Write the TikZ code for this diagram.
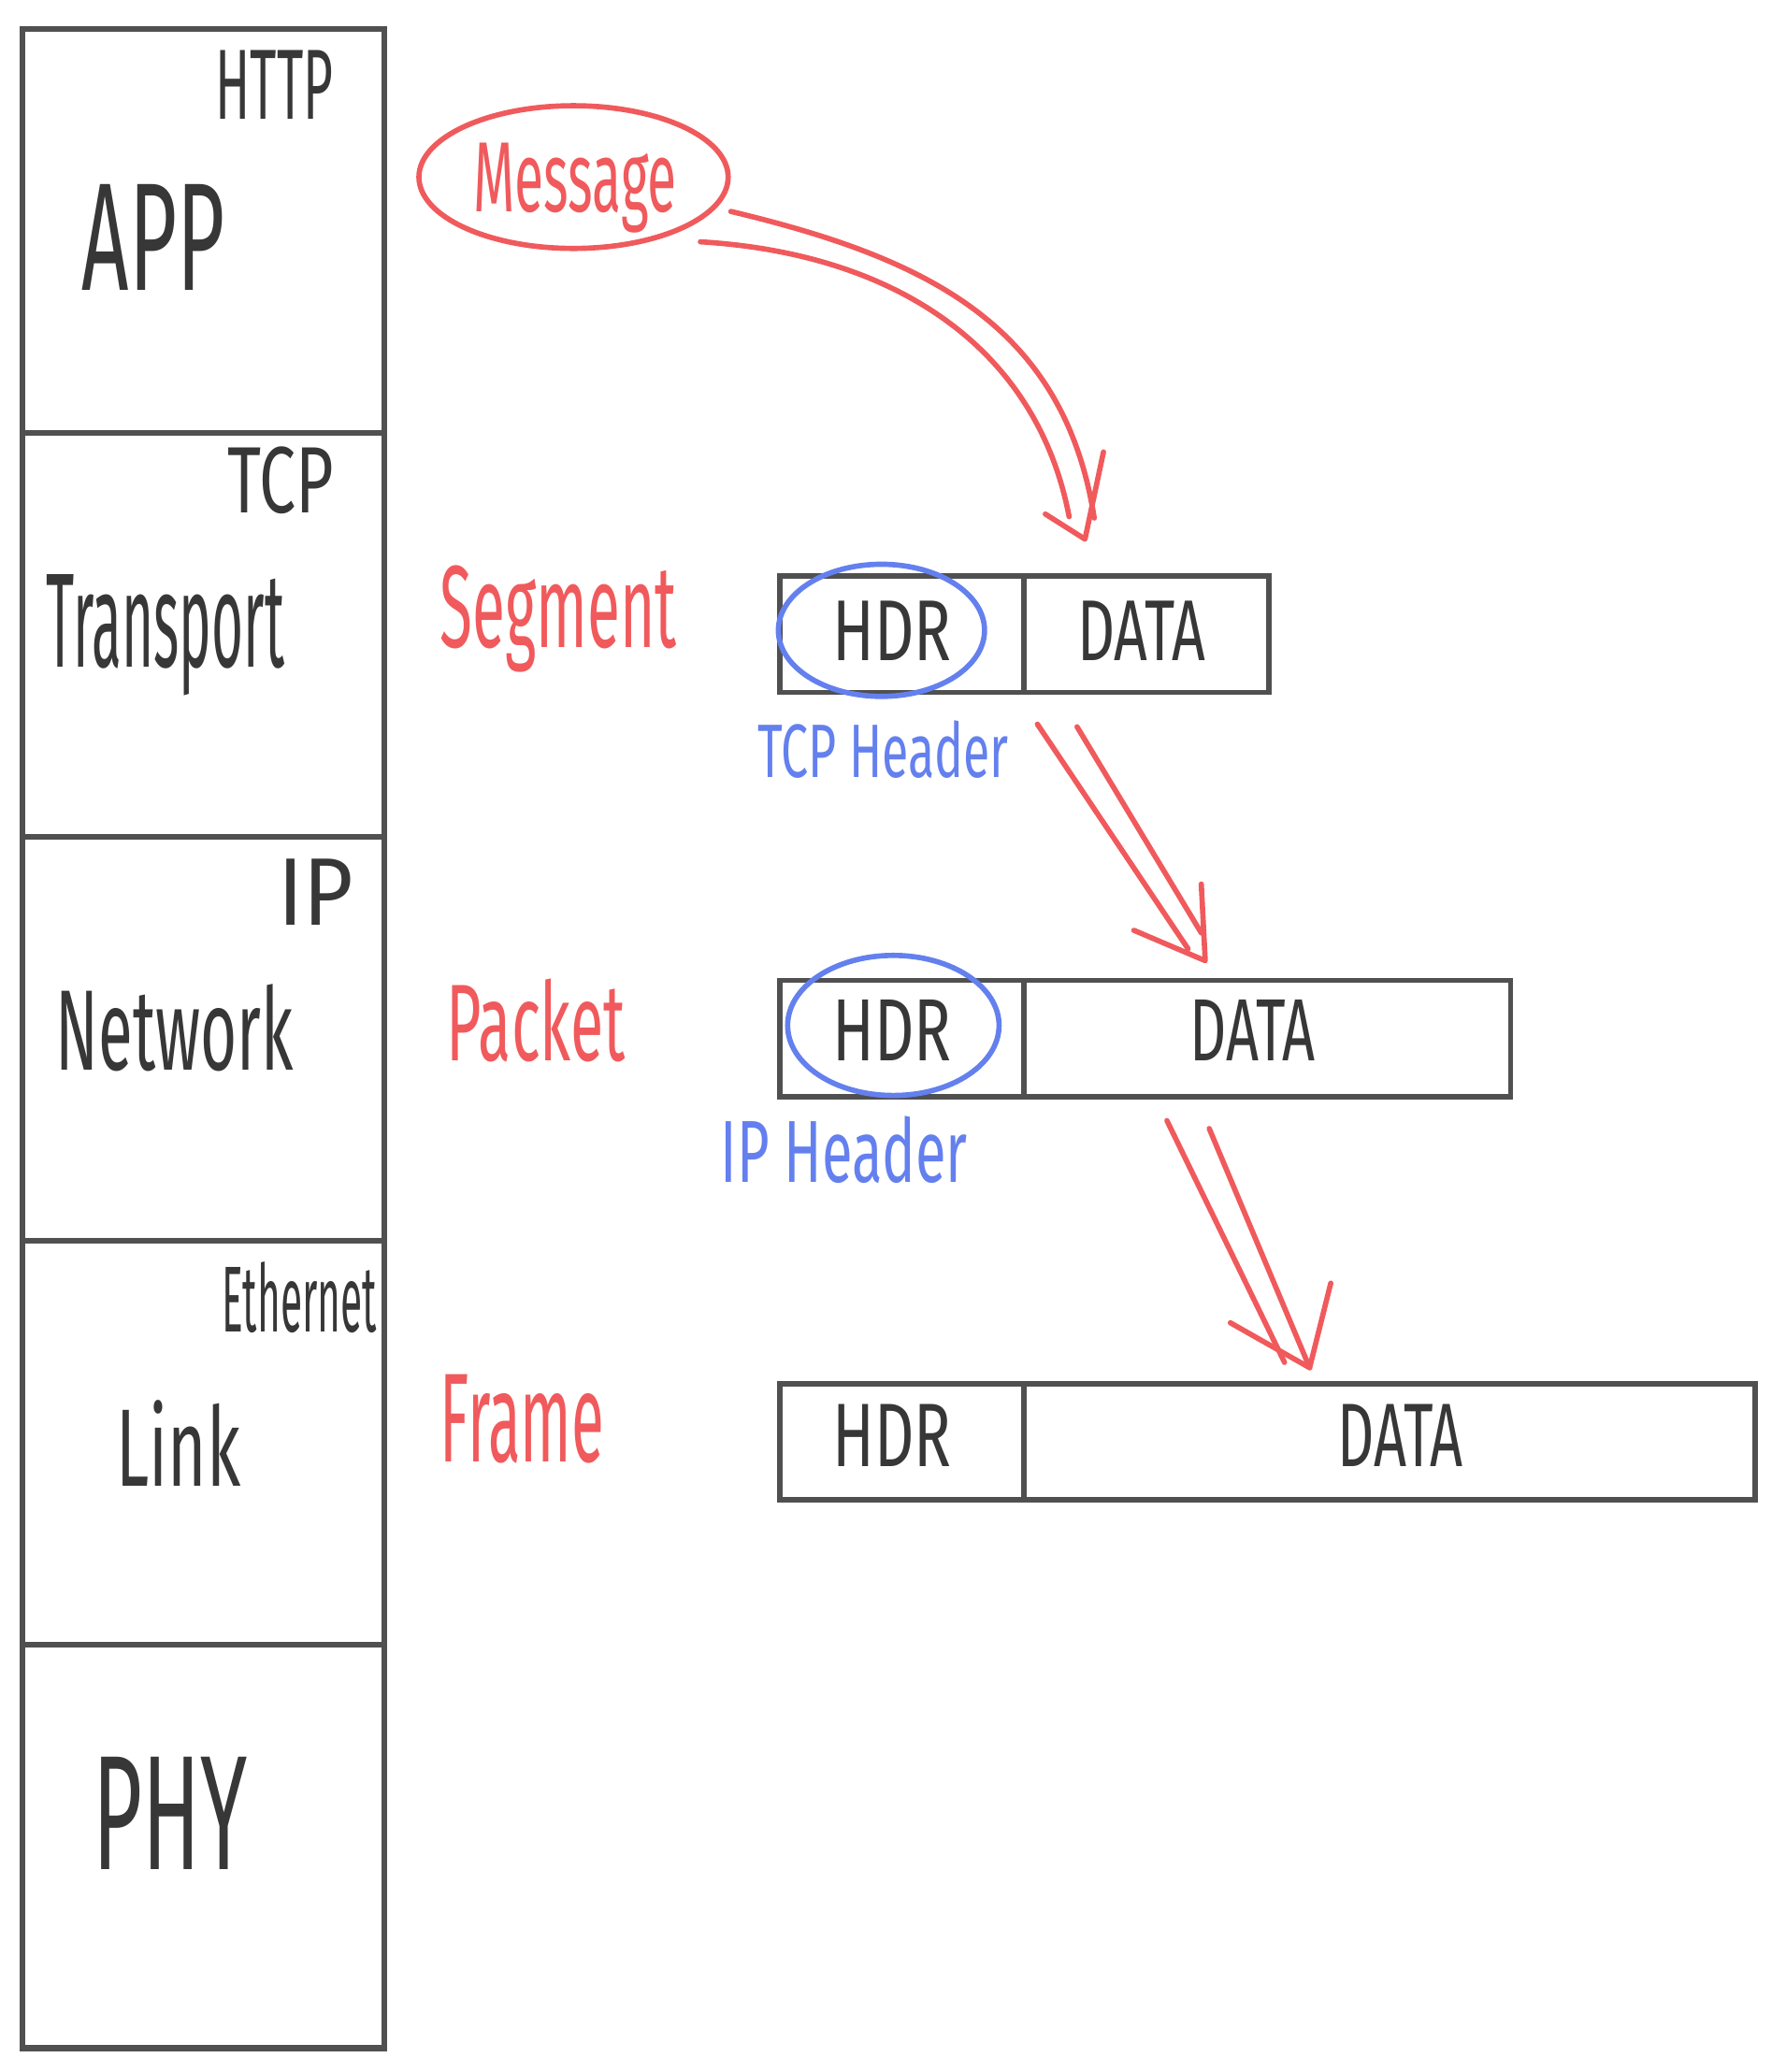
\documentclass[tikz,border=0pt]{standalone}
\usepackage{fontspec}
\usepackage{graphicx}
\newfontfamily\hand{Fira Sans}
\definecolor{ink}{RGB}{55,55,55}
\definecolor{boxgray}{RGB}{80,80,80}
\definecolor{penred}{RGB}{240,90,92}
\definecolor{penblue}{RGB}{100,128,238}
\newcommand{\hw}[3]{\resizebox{#1pt}{#2pt}{\hand #3}}
\tikzset{
  layer/.style={draw=boxgray, line width=4.5pt, minimum width=274pt, minimum height=305.6pt, inner sep=0pt},
  cell/.style={draw=boxgray, line width=4pt, inner sep=0pt, minimum height=88pt},
  txt/.style={anchor=base west, inner sep=0pt, text=ink},
  redtxt/.style={anchor=base west, inner sep=0pt, text=penred},
  bluetxt/.style={anchor=base west, inner sep=0pt, text=penblue},
  arr/.style={draw=penred, line width=4pt, line cap=round, line join=round},
  ring/.style={ellipse, draw, line width=4pt, inner sep=0pt}
}
\usetikzlibrary{shapes.geometric}
\begin{document}
\begin{tikzpicture}[x=1pt,y=-1pt]
\useasboundingbox (0,0) rectangle (1351,1568);
% layer stack
\node[layer] (app) at (154,174.8) {};
\node[layer] (tra) at (154,480.4) {};
\node[layer] (net) at (154,786.0) {};
\node[layer] (lnk) at (154,1091.6) {};
\node[layer] (phy) at (154,1397.2) {};
% layer texts
\node[txt] (thttp) at (163,90) {\hw{89}{52}{HTTP}};
\node[txt] (tapp) at (62,220) {\hw{108}{80}{APP}};
\node[txt] (ttcp) at (172,388) {\hw{80}{50}{TCP}};
\node[txt] (ttra) at (35,505) {\hw{180}{70}{Transport}};
\node[txt] (tip) at (210,700) {\hw{57}{50}{IP}};
\node[txt] (tnet) at (42,810) {\hw{180}{65}{Network}};
\node[txt] (teth) at (168,1008) {\hw{117}{53}{Ethernet}};
\node[txt] (tlnk) at (88,1125) {\hw{94}{65}{Link}};
\node[txt] (tphy) at (70,1415) {\hw{117}{85}{PHY}};
% red unit names
\node[redtxt] (msg) at (358,160) {\hw{154}{52}{Message}};
\node[ring, draw=penred, minimum width=234pt, minimum height=108pt] (msgring) at (434,134) {};
\node[redtxt] (seg) at (333,490) {\hw{179}{62}{Segment}};
\node[redtxt] (pkt) at (338,803) {\hw{135}{62}{Packet}};
\node[redtxt] (frm) at (333,1106) {\hw{124}{66}{Frame}};
% segment
\node[cell, minimum width=185pt] (hdr1) at (682.5,480) {};
\node[cell, minimum width=185pt] (dat1) at (867.5,480) {};
\node[txt] (th1) at (630,500) {\hw{90}{45}{HDR}};
\node[txt] (td1) at (815,500) {\hw{97}{45}{DATA}};
% packet
\node[cell, minimum width=185pt] (hdr2) at (682.5,786) {};
\node[cell, minimum width=368pt] (dat2) at (959,786) {};
\node[txt] (th2) at (630,803) {\hw{90}{46}{HDR}};
\node[txt] (td2) at (900,803) {\hw{95}{46}{DATA}};
% frame
\node[cell, minimum width=185pt] (hdr3) at (682.5,1091) {};
\node[cell, minimum width=553pt] (dat3) at (1051.5,1091) {};
\node[txt] (th3) at (630,1110) {\hw{90}{47}{HDR}};
\node[txt] (td3) at (1012,1110) {\hw{95}{47}{DATA}};
% blue annotations
\node[ring, draw=penblue, minimum width=156pt, minimum height=100pt] (ring1) at (667,477) {};
\node[bluetxt] (tcph) at (573,588) {\hw{190}{43}{TCP Header}};
\node[ring, draw=penblue, minimum width=160pt, minimum height=106pt] (ring2) at (676,776) {};
\node[bluetxt] (iph) at (545,895) {\hw{187}{50}{IP Header}};
% arrow 1
\coordinate (a1o) at (553,160);
\coordinate (a1oe) at (828,392);
\coordinate (a1i) at (530,183);
\coordinate (a1ie) at (809,391);
\coordinate (a1l) at (791,389);
\coordinate (a1t) at (821,408);
\coordinate (a1r) at (835,342);
\draw[arr] (a1o) .. controls (700,195) and (805,245) .. (a1oe);
\draw[arr] (a1i) .. controls (680,192) and (785,265) .. (a1ie);
\draw[arr] (a1l) -- (a1t) -- (a1r);
% arrow 2
\coordinate (a2l) at (785,548);
\coordinate (a2le) at (899,718);
\coordinate (a2r) at (815,550);
\coordinate (a2re) at (909,706);
\coordinate (a2hl) at (858,704);
\coordinate (a2t) at (912,727);
\coordinate (a2hr) at (909,669);
\draw[arr] (a2l) -- (a2le);
\draw[arr] (a2r) -- (a2re);
\draw[arr] (a2hl) -- (a2t) -- (a2hr);
% arrow 3
\coordinate (a3l) at (883,848);
\coordinate (a3le) at (972,1031);
\coordinate (a3r) at (915,854);
\coordinate (a3re) at (991,1035);
\coordinate (a3hl) at (931,1001);
\coordinate (a3t) at (991,1035);
\coordinate (a3hr) at (1007,971);
\draw[arr] (a3l) -- (a3le);
\draw[arr] (a3r) -- (a3re);
\draw[arr] (a3hl) -- (a3t) -- (a3hr);
\end{tikzpicture}
\end{document}
